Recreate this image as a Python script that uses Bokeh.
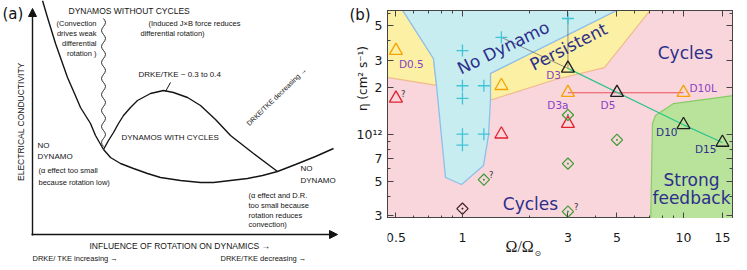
import math
from bokeh.plotting import figure
from bokeh.layouts import row, column
from bokeh.models import Range1d, FixedTicker, LogAxis, Arrow, NormalHead
from bokeh.core.properties import value
from bokeh.embed import file_html
from bokeh.resources import INLINE

# ====================== Panel (a): schematic (sketch units, y downward) ======================
left_curve_x = [42, 47, 55, 61, 67, 74, 80, 90, 95, 103]
left_curve_y = [0, 17, 43, 60, 77, 93, 107, 123, 135, 149]
lower_curve_x = [103, 110, 120, 133, 147, 160, 180, 200, 213, 230, 247, 262, 277, 295, 315, 333]
lower_curve_y = [149, 157, 163, 168, 173, 177, 180, 182, 182, 180, 178, 175, 171, 164, 156, 148]
hump_x = [103, 108, 113, 118, 123, 130, 137, 150, 163, 173, 187, 200, 215, 230, 253, 277]
hump_y = [149, 140, 132, 123, 115, 107, 100, 93, 90, 92, 97, 105, 119, 135, 153, 171]
wave_pattern = [0, 1.4, 2.0, 1.4, 0, -1.4, -2.0, -1.4]
wave_y = list(range(18, 148, 2))
wave_x = [103 + wave_pattern[i % 8] for i in range(len(wave_y))]
pointer_x = [170, 165]
pointer_y = [82, 91]

FONT_A = "Liberation Sans"
INK = "#141414"

pa = figure(width=348, height=270, x_range=Range1d(0, 348), y_range=Range1d(270, 0),
            x_axis_location=None, y_axis_location=None, toolbar_location=None,
            output_backend="svg", min_border=0, outline_line_color=None)
pa.xgrid.visible = False
pa.ygrid.visible = False

for xs, ys in [(left_curve_x, left_curve_y), (lower_curve_x, lower_curve_y), (hump_x, hump_y)]:
    pa.line(xs, ys, line_color=INK, line_width=1.4)
pa.line(wave_x, wave_y, line_color=INK, line_width=0.9)
pa.line(pointer_x, pointer_y, line_color=INK, line_width=1.0)

pa.add_layout(Arrow(x_start=32, y_start=235, x_end=32, y_end=8, line_color=INK, line_width=1.4,
                    end=NormalHead(size=8, fill_color=INK, line_color=INK)))
pa.add_layout(Arrow(x_start=31, y_start=234, x_end=337, y_end=234, line_color=INK, line_width=1.4,
                    end=NormalHead(size=8, fill_color=INK, line_color=INK)))


def txt(fig, x, y, s, size, align="left", angle=0.0, font=FONT_A, color=INK, xo=0, yo=0):
    fig.text(x=[x], y=[y], text=[s], text_font=value(font), text_font_size=value(f"{size}px"),
             text_align=align, text_baseline="middle", angle=angle, text_color=color,
             x_offset=xo, y_offset=yo)


txt(pa, 2, 13, "(a)", 15, font="DejaVu Sans", color="#111")
txt(pa, 68, 10, "DYNAMOS  WITHOUT  CYCLES", 8.5)
for yy, s in zip([23, 33, 43, 53], ["(Convection", "drives weak", "differential", "rotation )"]):
    txt(pa, 96, yy, s, 7.5, align="right")
txt(pa, 148, 23, "(Induced J\u00d7B force reduces", 7.5)
txt(pa, 140, 33, "differential rotation)", 7.5)
txt(pa, 138, 74, "DRKE/TKE ~ 0.3 to 0.4", 8)
txt(pa, 276, 96, "DRKE/TKE decreasing \u2192", 7, align="center", angle=math.radians(44))
txt(pa, 121, 137, "DYNAMOS WITH CYCLES", 8)
txt(pa, 37, 145, "NO", 8)
txt(pa, 37, 156, "DYNAMO", 8)
txt(pa, 38, 170, "(\u03b1 effect too small", 7.5)
txt(pa, 38, 182, "because rotation low)", 7.5)
txt(pa, 300, 168, "NO", 8)
txt(pa, 300, 180, "DYNAMO", 8)
for yy, s in zip([195, 205, 215, 224], ["(\u03b1 effect and D.R.", "too small because",
                                         "rotation reduces", "convection)"]):
    txt(pa, 248, yy, s, 7.5)
txt(pa, 89, 245, "INFLUENCE OF ROTATION ON DYNAMICS \u2192", 8.5)
txt(pa, 32, 258, "DRKE/ TKE  increasing \u2192", 7.5)
txt(pa, 220, 258, "DRKE/TKE decreasing \u2192", 7.5)
txt(pa, 20, 120, "ELECTRICAL  CONDUCTIVITY", 8.5, align="center", angle=math.pi / 2)

# ====================== Panel (b): data ======================
x_ticks = [0.5, 1, 3, 5, 10, 15]
x_tick_labels = ["0.5", "1", "3", "5", "10", "15"]
x_minor = [0.6, 0.7, 0.8, 0.9, 2, 4, 6, 7, 8, 9]
y_ticks = [3e11, 5e11, 7e11, 1e12, 2e12, 3e12, 5e12]
y_tick_labels = ["3", "5", "7", "10\u00b9\u00b2", "2", "3", "5"]
y_minor = [4e11, 6e11, 8e11, 9e11, 4e12, 6e12]

# No dynamo (crosses)
omega_nodyn = [1, 1, 1, 1, 1, 1.25, 1.25, 1.5, 3]
eta_nodyn = [3.45e12, 2.05e12, 1.70e12, 1.0e12, 0.85e12, 2.05e12, 1.0e12, 4.2e12, 5.55e12]
# Persistent (orange triangles)
omega_persist = [0.5, 1.5, 3, 10]
eta_persist = [3.45e12, 2.05e12, 1.85e12, 1.85e12]
# Named runs (black triangles)
omega_black = [3, 5, 10, 15]
eta_black = [2.65e12, 1.85e12, 1.15e12, 0.885e12]
# Cycles (red triangles)
omega_red = [0.5, 1.5, 3]
eta_red = [1.70e12, 1.0e12, 1.17e12]
# Cycles (green diamonds)
omega_green = [3, 5, 3, 1.25, 3]
eta_green = [1.33e12, 0.92e12, 0.647e12, 0.51e12, 0.318e12]
# dark diamond
omega_dark = [1]
eta_dark = [0.332e12]

# regime regions
cyan_omega = [0.535, 0.739, 0.763, 0.803, 0.838, 0.990, 1.245, 1.311, 1.339, 1.339, 5.03]
cyan_eta = [6.3e12, 3.07e12, 2.06e12, 0.98e12, 0.527e12, 0.475e12, 0.629e12, 0.98e12, 1.647e12, 2.46e12, 6.3e12]
yellowL_omega = [0.40, 0.535, 0.739, 0.763, 0.40]
yellowL_eta = [6.3e12, 6.3e12, 3.07e12, 2.06e12, 2.39e12]
persist_omega = [1.339, 5.03, 7.09, 4.39, 2.635, 1.367, 1.339]
persist_eta = [2.46e12, 6.3e12, 6.3e12, 2.685e12, 2.25e12, 1.672e12, 1.672e12]
green_omega = [7.24, 7.47, 9.01, 18.1, 18.1, 7.09]
green_eta = [1.172e12, 1.319e12, 1.575e12, 1.80e12, 0.24e12, 0.24e12]

# ---- geometry of panel (b) on the page ----
X0, X1 = 0.458, 16.66
Y0, Y1 = 0.287e12, 6.25e12
FW, FH = 345, 208
LEFT_W, RIGHT_B, TOP_B, BOT_H = 39, 15, 10, 52
TOTAL_H = TOP_B + FH + BOT_H
KX = (math.log10(X1) - math.log10(X0)) / FW
KY = (math.log10(Y1) - math.log10(Y0)) / FH


def eta_at(py):      # page y -> eta
    return 10 ** (math.log10(Y1) - (py - TOP_B) * KY)


def omega_at(px):    # page x -> omega (frame starts at page x 387)
    return 10 ** (math.log10(X0) + (px - 387) * KX)


PINK = "#f9d6db"
FONT_B = "DejaVu Sans"
NAVY = "#2d2f8c"
PURPLE = "#8a3ec6"
AX_COL = "#444"

x_range_b = Range1d(X0, X1)
pb = figure(frame_width=FW, frame_height=FH, x_axis_type="log", y_axis_type="log",
            x_range=x_range_b, y_range=Range1d(Y0, Y1), toolbar_location=None,
            output_backend="svg", min_border_left=0, min_border_right=RIGHT_B, min_border_top=TOP_B,
            min_border_bottom=0, background_fill_color=PINK, outline_line_color=AX_COL)
pb.xgrid.visible = False
pb.ygrid.visible = False

pb.patch(yellowL_omega, yellowL_eta, fill_color="#fbf0a4", line_color="#f2b98c", line_width=1.2)
pb.patch(persist_omega, persist_eta, fill_color="#fbf0a4", line_color="#f2b98c", line_width=1.2)
pb.patch(cyan_omega, cyan_eta, fill_color="#c8edf1", line_color="#8cc0ea", line_width=1.3)
pb.patch(green_omega, green_eta, fill_color="#b9e29b", line_color="#86cc66", line_width=1.2)

pb.line([omega_nodyn[7], omega_black[0]], [eta_nodyn[7], eta_black[0]], line_color="#333", line_width=0.7, line_alpha=0.7)
pb.line([omega_nodyn[8], omega_black[0]], [eta_nodyn[8], eta_black[0]], line_color="#333", line_width=0.7, line_alpha=0.7)
pb.line([omega_persist[2], omega_persist[3]], [eta_persist[2], eta_persist[3]], line_color="#e8505e", line_width=1.1)
pb.line([omega_black[0], omega_black[2], omega_black[3]], [eta_black[0], eta_black[2], eta_black[3]],
        line_color="#2ec58a", line_width=1.3)

pb.scatter(omega_nodyn, eta_nodyn, marker="cross", size=12, line_color="#40c4d6", line_width=1.3)
pb.scatter(omega_persist, eta_persist, marker="triangle", size=13, fill_color=None, line_color="#f5a300", line_width=1.3)
pb.scatter(omega_red, eta_red, marker="triangle", size=13, fill_color=None, line_color="#e2202e", line_width=1.3)
pb.scatter(omega_black, eta_black, marker="triangle", size=13, fill_color=None, line_color="#1e1e1e", line_width=1.3)
pb.scatter(omega_green, eta_green, marker="square_dot", angle=math.pi / 4, size=8, fill_color=None,
           line_color="#3e9a36", line_width=1.2)
pb.scatter(omega_dark, eta_dark, marker="square_dot", angle=math.pi / 4, size=8, fill_color=None,
           line_color="#3a2020", line_width=1.2)

# run labels
txt(pb, omega_persist[0], eta_persist[0], "D0.5", 10.5, "left", font=FONT_B, color=PURPLE, xo=3, yo=13)
txt(pb, omega_persist[2], eta_persist[2], "D3a", 10.5, "center", font=FONT_B, color=PURPLE, xo=-10, yo=12)
txt(pb, omega_persist[3], eta_persist[3], "D10L", 10.5, "left", font=FONT_B, color=PURPLE, xo=6, yo=-5)
txt(pb, omega_black[0], eta_black[0], "D3", 10.5, "right", font=FONT_B, color=PURPLE, xo=-7, yo=7)
txt(pb, omega_black[1], eta_black[1], "D5", 10.5, "center", font=FONT_B, color=PURPLE, xo=-9, yo=12)
txt(pb, omega_black[2], eta_black[2], "D10", 10.5, "right", font=FONT_B, color=NAVY, xo=-6, yo=7)
txt(pb, omega_black[3], eta_black[3], "D15", 10.5, "right", font=FONT_B, color=NAVY, xo=-6, yo=7)
txt(pb, omega_red[0], eta_red[0], "?", 8.5, "left", font=FONT_B, color="#333", xo=5, yo=-4)
txt(pb, omega_green[3], eta_green[3], "?", 8.5, "left", font=FONT_B, color="#333", xo=5, yo=-5)
txt(pb, omega_green[4], eta_green[4], "?", 8.5, "left", font=FONT_B, color="#333", xo=6, yo=-5)

# regime names
txt(pb, 1.53, 3.61e12, "No Dynamo", 17, "center", angle=math.radians(26), font=FONT_B, color=NAVY)
txt(pb, 3.02, 3.66e12, "Persistent", 17, "center", angle=math.radians(27), font=FONT_B, color=NAVY)
txt(pb, 10.2, 3.35e12, "Cycles", 17, "center", font=FONT_B, color=NAVY)
txt(pb, 2.03, 0.358e12, "Cycles", 17, "center", font=FONT_B, color=NAVY)
txt(pb, 10.87, 0.504e12, "Strong", 17, "center", font=FONT_B, color=NAVY)
txt(pb, 10.87, 0.386e12, "feedback", 17, "center", font=FONT_B, color=NAVY)


# inward ticks on all four sides (labels are drawn by the strip figures)
def tick_axis(ax, positions, length):
    ax.ticker = FixedTicker(ticks=[], minor_ticks=positions)
    ax.minor_tick_in = length
    ax.minor_tick_out = 0
    ax.major_tick_in = 0
    ax.major_tick_out = 0
    ax.major_label_standoff = 0
    ax.axis_line_color = AX_COL
    ax.minor_tick_line_color = AX_COL
    ax.minor_tick_line_width = 1


for ax in pb.xaxis:
    tick_axis(ax, x_minor, 3)
for ax in pb.yaxis:
    tick_axis(ax, y_minor, 3)
for loc, pos, ln in [("below", x_ticks, 6), ("above", x_ticks, 6), ("above", x_minor, 3),
                     ("left", y_ticks, 6), ("right", y_ticks, 6), ("right", y_minor, 3)]:
    a = LogAxis()
    tick_axis(a, pos, ln)
    pb.add_layout(a, loc)

# ---- left strip: panel letter, eta label, eta tick labels ----
pl = figure(width=LEFT_W, height=TOTAL_H, x_range=Range1d(348, 387), y_axis_type="log",
            y_range=Range1d(10 ** (math.log10(Y0) - BOT_H * KY), 10 ** (math.log10(Y1) + TOP_B * KY)),
            x_axis_location=None, y_axis_location=None, toolbar_location=None,
            output_backend="svg", min_border=0, outline_line_color=None)
pl.xgrid.visible = False
pl.ygrid.visible = False
pl.text(x=[382] * len(y_ticks), y=y_ticks, text=y_tick_labels, text_font=value(FONT_B),
        text_font_size=value("12.5px"), text_align="right", text_baseline="middle", text_color="#1a1a1a")
txt(pl, 349, eta_at(14), "(b)", 15, font=FONT_B, color="#111")
txt(pl, 362, eta_at(78), "\u03b7 (cm\u00b2 s\u207b\u00b9)", 12, "center", angle=math.pi / 2,
    font=FONT_B, color="#1a1a1a")

# ---- bottom strip (shares panel b's x range): omega tick labels and axis title ----
pbot = figure(frame_width=FW, frame_height=BOT_H, x_axis_type="log", x_range=x_range_b,
              y_range=Range1d(270, 218), x_axis_location=None, y_axis_location=None,
              toolbar_location=None, output_backend="svg", min_border_left=0, min_border_top=0,
              min_border_bottom=0, min_border_right=RIGHT_B, outline_line_color=None)
pbot.xgrid.visible = False
pbot.ygrid.visible = False
pbot.text(x=x_ticks, y=[237] * len(x_ticks), text=x_tick_labels, text_font=value(FONT_B),
          text_font_size=value("12.5px"), text_align="center", text_baseline="middle", text_color="#1a1a1a")
txt(pbot, omega_at(505), 246, "\u03a9/\u03a9", 16, font="Liberation Serif", color="#1a1a1a")
txt(pbot, omega_at(534), 253, "\u2299", 8, font="DejaVu Sans", color="#1a1a1a")

layout = row(pa, pl, column(pb, pbot, spacing=0), spacing=0)
open("out.html", "w").write(file_html(layout, INLINE))
